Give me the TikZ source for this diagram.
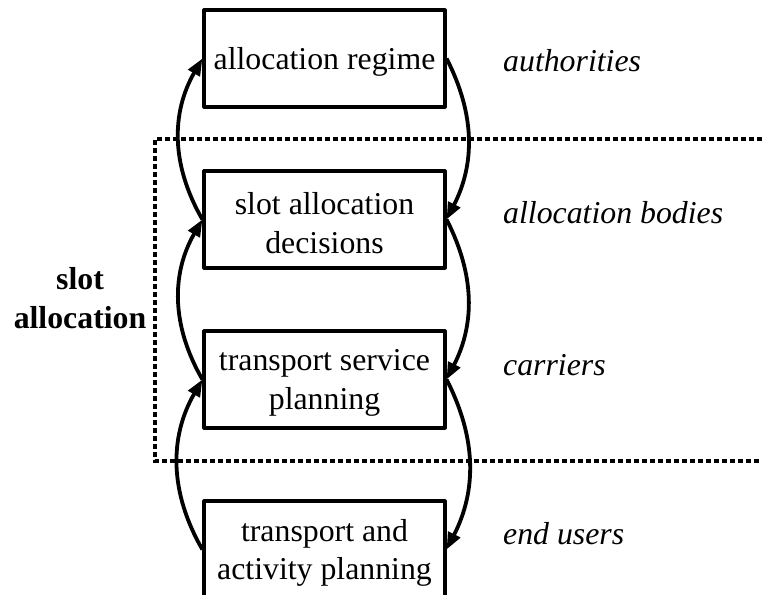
\documentclass[tikz,border=0pt]{standalone}
\usepackage{fontspec}
\setmainfont{Liberation Serif}
\usetikzlibrary{arrows.meta}

\newcommand{\bigtext}{\fontsize{31.8}{38.5}\selectfont}

\begin{document}
\begin{tikzpicture}[x=1pt, y=-1pt,
  box/.style={draw, line width=3.2pt, line join=round, minimum width=241pt,
    minimum height=97pt, inner sep=0pt},
  boxtext/.style={font=\bigtext, align=center, inner sep=0pt, yshift=-3.5pt},
  role/.style={font=\bigtext\itshape, anchor=base west, inner sep=0pt},
  flow/.style={line width=3.8pt, -{Triangle[length=17pt,width=13pt]}},
  zone/.style={line width=3.6pt, dash pattern=on 5pt off 3pt}]
\useasboundingbox (0,0) rectangle (762,594);
\clip (0,0) rectangle (762,594);

% the four planning levels
\node[box] (regime)    at (324.5,58.5)  {};
\node[box] (decisions) at (324.5,219.5) {};
\node[box] (service)   at (324.5,379.5) {};
\node[box] (activity)  at (324.5,549.5) {};
\node[boxtext] (regimetext)    at (regime)    {allocation regime};
\node[boxtext] (decisionstext) at (decisions) {slot allocation\\decisions};
\node[boxtext] (servicetext)   at (service)   {transport service\\planning};
\node[boxtext] (activitytext)  at (activity)  {transport and\\activity planning};

% actors responsible for each level
\node[role] (authorities) at (503,71)  {authorities};
\node[role] (bodies)      at (503,223) {allocation bodies};
\node[role] (carriers)    at (503,375) {carriers};
\node[role] (users)       at (503,544) {end users};

% the slot allocation zone, open to the right
\draw[zone] (762,139) -- (155,139) -- (155,461) -- (762,461);
\node[font=\bigtext\bfseries, align=center, inner sep=0pt] (zonelabel) at (80,298) {slot\\allocation};

% feedback upwards on the left
\draw[flow] (decisions.west) to[bend left=30] (regime.west);
\draw[flow] (service.west)   to[bend left=30] (decisions.west);
\draw[flow] (activity.west)  to[bend left=30] (service.west);

% constraints downwards on the right
\draw[flow] (regime.east)    to[bend left=27] (decisions.east);
\draw[flow] (decisions.east) to[bend left=27] (service.east);
\draw[flow] (service.east)   to[bend left=27] (activity.east);
\end{tikzpicture}
\end{document}
